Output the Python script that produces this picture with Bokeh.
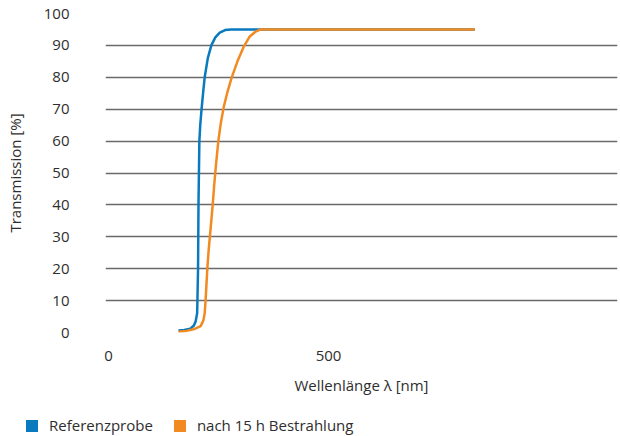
from bokeh.plotting import figure
from bokeh.layouts import column
from bokeh.models import Legend, LegendItem, FixedTicker, ColumnDataSource
from bokeh.embed import file_html
from bokeh.resources import INLINE

# Data
x_ref = [159, 172, 186, 194, 198, 201.3, 202, 203.4, 204.4, 205.4, 206.4, 208.4, 211.4, 215.5, 218.5,
         225.6, 233.6, 242.7, 252.8, 264.9, 278, 298, 833]
y_ref = [0.6, 0.8, 1.2, 2.2, 3.5, 6, 10, 20, 40, 50, 60, 65, 70, 76, 80,
         86, 90, 92.5, 94, 94.8, 95, 95, 95]

x_irr = [159, 177, 193, 209.4, 215.5, 218.5, 220.5, 222.5, 224.5, 227.6, 231.6, 236.7, 240, 244.5,
         249.5, 255, 261.5, 270, 280, 293, 308, 321, 334, 346, 399, 833]
y_irr = [0.2, 0.5, 1, 2, 3.8, 6, 10, 15, 20, 26, 32, 40, 46, 53,
         60, 65.5, 70.5, 75.3, 80, 85, 89.8, 92.8, 94.3, 95, 95, 95]

series_names = ["Referenzprobe", "nach 15 h Bestrahlung"]
series_colors = ["#0a7abf", "#f28a22"]
x_ticks = [0, 500]
y_ticks = [0, 10, 20, 30, 40, 50, 60, 70, 80, 90, 100]

FONT = "Open Sans"
TXT = "#2e2e2e"
FS = "15px"

p = figure(width=620, height=400, x_range=(-7, 1157), y_range=(0, 100),
           output_backend="svg", toolbar_location=None,
           min_border_left=105, min_border_right=3, min_border_top=13, min_border_bottom=68)
p.outline_line_color = None
p.background_fill_color = "white"
p.frame_align = False

p.line(x_ref, y_ref, line_color=series_colors[0], line_width=2.5)
p.line(x_irr, y_irr, line_color=series_colors[1], line_width=2.5)

# axes
p.xaxis.ticker = FixedTicker(ticks=x_ticks)
p.yaxis.ticker = FixedTicker(ticks=y_ticks)
for ax in (p.xaxis[0], p.yaxis[0]):
    ax.axis_line_color = None
    ax.major_tick_line_color = None
    ax.minor_tick_line_color = None
    ax.major_label_text_font = FONT
    ax.major_label_text_font_size = FS
    ax.major_label_text_color = TXT
    ax.axis_label_text_font = FONT
    ax.axis_label_text_font_size = FS
    ax.axis_label_text_color = TXT
    ax.axis_label_text_font_style = "normal"
p.xaxis.axis_label = "Wellenlänge λ [nm]"
p.yaxis.axis_label = "Transmission [%]"
p.xaxis.major_label_standoff = 12
p.xaxis.axis_label_standoff = 11
p.yaxis.major_label_standoff = 30
p.yaxis.axis_label_standoff = 16

p.xgrid.grid_line_color = None
p.ygrid.grid_line_color = "#6a6a6a"
p.ygrid.grid_line_width = 1.4

# legend strip
lg = figure(width=620, height=36, x_range=(0, 1), y_range=(0, 1),
            output_backend="svg", toolbar_location=None,
            x_axis_type=None, y_axis_type=None, min_border=0)
lg.frame_align = False
lg.outline_line_color = None
lg.xgrid.visible = False
lg.ygrid.visible = False
src_off = ColumnDataSource(data=dict(l=[-5], r=[-4], b=[-5], t=[-4]))
r1 = lg.quad(left="l", right="r", bottom="b", top="t", source=src_off,
             fill_color=series_colors[0], line_color=None)
r2 = lg.quad(left="l", right="r", bottom="b", top="t", source=src_off,
             fill_color=series_colors[1], line_color=None)

legend = Legend(items=[LegendItem(label=series_names[0], renderers=[r1]),
                       LegendItem(label=series_names[1], renderers=[r2])],
                orientation="horizontal", location=(24, 1),
                border_line_color=None, background_fill_alpha=0,
                padding=0, margin=0, spacing=19, label_standoff=10,
                glyph_width=15, glyph_height=15, label_height=12,
                label_text_font=FONT, label_text_font_size=FS, label_text_color=TXT)
lg.add_layout(legend, "center")

open("out.html", "w").write(file_html(column(p, lg, spacing=0), INLINE))
